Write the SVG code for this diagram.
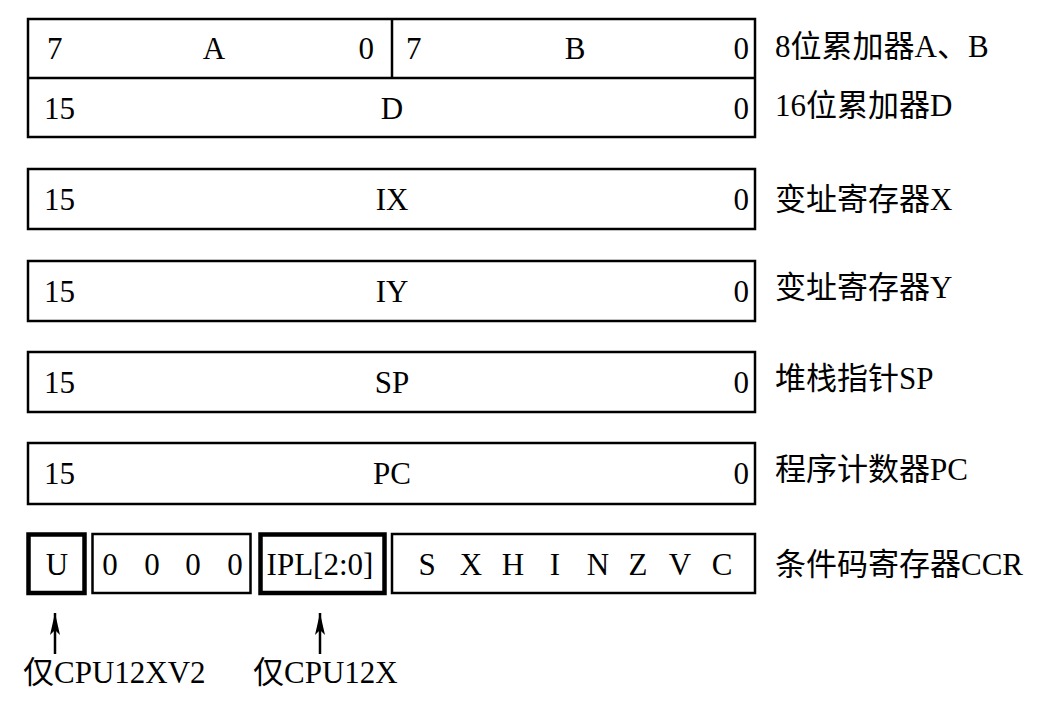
<svg xmlns="http://www.w3.org/2000/svg" width="1051" height="710" viewBox="0 0 1051 710">
<style>
.box{fill:#fff;stroke:#000;stroke-width:2.5}
.thick{fill:#fff;stroke:#000;stroke-width:4.5}
text{font-family:"Liberation Serif","Noto Sans CJK SC",serif;font-size:31px;fill:#000}
.m{text-anchor:middle}
.e{text-anchor:end}
.lbl{font-size:31px}
</style>
<defs>
<marker id="ah" markerWidth="22" markerHeight="10" refX="22" refY="5" orient="auto" markerUnits="userSpaceOnUse" viewBox="0 0 22 10">
<path d="M22,5 L0,0 L5,5 L0,10 Z" fill="#000"/>
</marker>
</defs>
<g id="reg-AB">
<rect class="box" x="28" y="19" width="727" height="118"/>
<line x1="28" y1="78" x2="755" y2="78" stroke="#000" stroke-width="2.5"/>
<line x1="392" y1="19" x2="392" y2="78" stroke="#000" stroke-width="2.5"/>
<text x="47" y="59">7</text>
<text class="m" x="214" y="59">A</text>
<text class="e" x="374" y="59">0</text>
<text x="406" y="59">7</text>
<text class="m" x="575" y="59">B</text>
<text class="e" x="749" y="59">0</text>
<text x="44" y="119">15</text>
<text class="m" x="392" y="119">D</text>
<text class="e" x="749" y="119">0</text>
</g>
<g id="reg-IX">
<rect class="box" x="28" y="169" width="727" height="60"/>
<text x="44" y="210">15</text>
<text class="m" x="392" y="210">IX</text>
<text class="e" x="749" y="210">0</text>
</g>
<g id="reg-IY">
<rect class="box" x="28" y="261" width="727" height="60"/>
<text x="44" y="302">15</text>
<text class="m" x="392" y="302">IY</text>
<text class="e" x="749" y="302">0</text>
</g>
<g id="reg-SP">
<rect class="box" x="28" y="352" width="727" height="60"/>
<text x="44" y="393">15</text>
<text class="m" x="392" y="393">SP</text>
<text class="e" x="749" y="393">0</text>
</g>
<g id="reg-PC">
<rect class="box" x="28" y="443" width="727" height="61"/>
<text x="44" y="484">15</text>
<text class="m" x="392" y="484">PC</text>
<text class="e" x="749" y="484">0</text>
</g>
<g id="ccr-U">
<rect class="thick" x="28.5" y="534.5" width="56" height="58.5"/>
<text class="m" x="57" y="575">U</text>
</g>
<g id="ccr-0000">
<rect class="box" x="92.5" y="534" width="158" height="59"/>
<text class="m" x="110" y="575">0</text>
<text class="m" x="152" y="575">0</text>
<text class="m" x="193" y="575">0</text>
<text class="m" x="235" y="575">0</text>
</g>
<g id="ccr-IPL">
<rect class="thick" x="260.5" y="534.5" width="124" height="58.5"/>
<text class="m" x="320" y="575">IPL[2:0]</text>
</g>
<g id="ccr-flags">
<rect class="box" x="392" y="534" width="363" height="59"/>
<text class="m" x="427" y="575">S</text>
<text class="m" x="471" y="575">X</text>
<text class="m" x="513" y="575">H</text>
<text class="m" x="555" y="575">I</text>
<text class="m" x="598" y="575">N</text>
<text class="m" x="638" y="575">Z</text>
<text class="m" x="680" y="575">V</text>
<text class="m" x="722" y="575">C</text>
</g>
<g id="labels">
<text class="lbl" x="775" y="57">8位累加器A、B</text>
<text class="lbl" x="775" y="116">16位累加器D</text>
<text class="lbl" x="775" y="210">变址寄存器X</text>
<text class="lbl" x="775" y="298">变址寄存器Y</text>
<text class="lbl" x="775" y="389">堆栈指针SP</text>
<text class="lbl" x="775" y="480">程序计数器PC</text>
<text class="lbl" x="775" y="575">条件码寄存器CCR</text>
</g>
<g id="connectors">
<line x1="55" y1="654" x2="55" y2="613" stroke="#000" stroke-width="2.5" marker-end="url(#ah)"/>
<line x1="320" y1="654" x2="320" y2="613" stroke="#000" stroke-width="2.5" marker-end="url(#ah)"/>
</g>
<g id="notes">
<text x="23" y="683">仅CPU12XV2</text>
<text x="253" y="683">仅CPU12X</text>
</g>
</svg>
